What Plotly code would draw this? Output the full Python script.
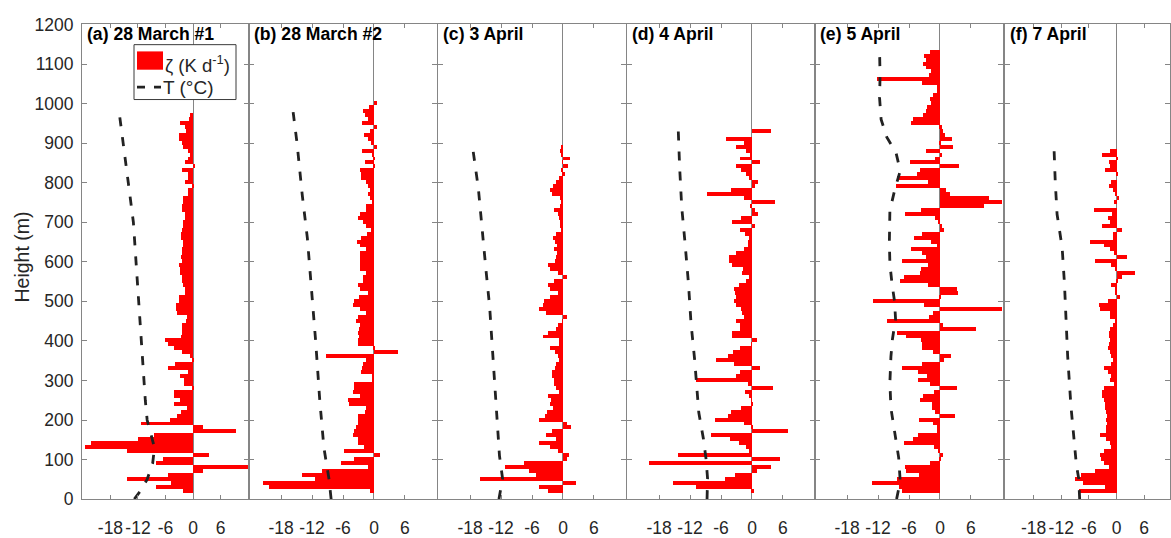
import plotly.graph_objects as go

W, H = 1171, 538

# ---------------- data ----------------
PANEL_TITLES = ["(a) 28 March #1", "(b) 28 March #2", "(c) 3 April",
                "(d) 4 April", "(e) 5 April", "(f) 7 April"]

# Heating rate zeta (K d^-1), 10-m bins listed from the top bin downwards
TOP_A = 970
ZETA_A = [-0.6, -0.8, -2.8, -1.7, -1.5, -3.0, -3.0, -2.5, -2.2, -1.0,
          -0.7, -1.0, -1.7, 0.3, -2.4, -1.0, -1.0, -1.8, -0.2, -1.1,
          -1.1, -2.2, -2.2, -2.4, -2.4, -1.7, -1.7, -2.2, -2.2, -2.4,
          -2.6, -2.6, -2.2, -2.2, -2.4, -2.4, -2.6, -2.4, -3.1, -2.8,
          -2.8, -2.4, -2.4, -2.2, -1.7, -1.8, -3.1, -3.1, -3.7, -3.7,
          -3.5, -1.3, -1.5, -2.4, -2.3, -2.3, -2.6, -6.1, -5.5, -4.2,
          -2.4, -0.7, -0.3, -3.9, -5.5, -1.0, -2.9, -2.0, -2.0, -0.3,
          -4.2, -4.2, -2.9, -4.2, -1.3, -2.6, -3.5, -5.1, -11.4, 2.2,
          9.3, -8.4, -11.9, -22.2, -23.6, -14.4, 3.4, -6.6, -8.1, 12.2,
          2.2, -5.5, -14.3, -4.8, -8.1, -2.2]

TOP_B = 1000
ZETA_B = [0.5, -1.0, -2.2, -1.8, -1.2, -2.3, 0.5, -0.8, -2.0, -1.2,
          -0.5, 0.5, -2.3, -0.2, 0.1, -1.8, 0.1, -2.8, -2.5, -2.5,
          -1.5, -1.2, -0.8, -1.2, -0.7, -0.2, -1.5, -1.5, -2.7, -3.0,
          -2.2, -1.6, -0.5, -1.3, -2.5, -3.3, -2.8, -1.5, -2.7, -2.8,
          -2.8, -2.7, -2.7, -1.5, -2.2, -2.2, -3.1, -2.7, -1.2, -2.9,
          -3.9, -4.1, -2.8, -1.5, -3.1, -3.5, -2.7, -2.9, -3.1, -2.9,
          -3.1, -3.1, 0.1, 4.7, -9.2, -1.5, -2.2, -2.3, -2.5, -0.3,
          -0.2, -3.8, -3.8, -4.1, -2.8, -5.0, -4.8, -1.6, -1.8, -3.0,
          -3.0, -3.1, -3.5, -3.8, -4.1, -3.1, -3.1, -2.0, -5.9, 1.1,
          -3.8, -6.4, -1.2, -10.1, -13.9, -11.4, -21.4, -20.4, -0.7]

TOP_C = 890
ZETA_C = [-0.3, -0.5, -0.2, 1.3, -0.1, 1.0, -0.3, 0.3, -0.8, -1.4,
          -2.0, -2.5, -2.1, -0.5, -0.3, -0.5, -1.8, -1.0, -0.8, -0.5,
          -0.5, -0.3, -1.4, -2.0, -1.6, -1.2, -1.8, -1.2, -1.4, -1.6,
          -2.9, -2.6, -1.0, 0.8, -1.8, -2.9, -2.5, -1.0, -2.6, -3.6,
          -3.9, -4.6, -3.3, 0.7, -0.1, -1.0, -1.4, -2.9, -3.9, -0.8,
          -0.7, -2.6, -1.6, -1.0, -0.8, -1.3, -1.6, -2.1, -2.1, -1.8,
          -1.8, -1.4, -0.7, -2.9, -2.3, -2.5, -2.0, -3.1, -3.4, -4.6,
          0.7, 1.6, -2.1, -3.3, -1.3, -4.7, -2.5, -1.0, 1.2, 0.7,
          -7.5, -11.2, -6.5, -5.3, -16.0, 2.5, -4.6, -2.9]

TOP_D = 930
ZETA_D = [3.6, 0.0, -5.1, -1.5, -3.0, -1.1, -0.3, -2.3, 1.5, -3.0,
          -2.1, -1.1, -0.6, 1.2, 0.5, -4.1, -8.8, -1.5, 4.5, -0.3,
          0.5, 1.1, -2.1, -3.9, 0.5, -2.3, -1.3, -0.6, -0.8, -0.7,
          -1.6, -3.0, -4.4, -4.5, -3.8, -1.8, -1.9, -0.5, -1.1, -2.6,
          -3.4, -3.2, -3.1, -3.4, -3.0, -2.1, -1.9, -1.5, -3.0, -2.3,
          -2.4, -3.8, -3.8, 0.9, -0.1, -2.4, -3.6, -4.7, -6.9, -3.4,
          1.5, -2.4, -3.0, -10.9, -0.8, 4.0, -1.3, -0.5, -0.1, 0.1,
          -2.1, -4.1, -4.7, -7.2, -1.6, 0.2, 7.0, -8.0, -4.2, -2.6,
          -1.1, -0.5, -14.4, 5.5, -20.0, 3.6, 0.9, -3.2, -5.2, -15.3,
          -10.8, 0.3]

TOP_E = 1130
ZETA_E = [-1.9, -3.0, -2.8, -3.2, -2.8, -1.7, -2.2, -12.1, -3.4, -0.6,
          -0.5, -1.3, -1.9, -1.7, -2.6, -2.8, -3.2, -5.3, -5.6, 0.3,
          0.6, 1.0, 2.3, 0.2, 2.5, -2.8, 0.4, -0.9, -5.9, 3.6,
          -3.9, -4.5, -8.4, -2.4, -8.6, 1.2, 1.9, 9.5, 12.0, 8.6,
          -3.7, -6.8, -0.9, -0.3, 0.4, 0.8, -3.5, -5.1, -1.7, -0.5,
          -5.6, -3.4, -2.7, -7.4, -2.4, -3.7, -3.8, -7.0, -7.7, -2.4,
          3.2, 3.4, 0.2, -13.0, -3.0, 12.0, -1.3, -2.1, -10.3, 0.6,
          7.0, -8.4, -6.6, -3.7, -3.5, -3.4, -1.4, 2.1, 0.8, -3.4,
          -7.4, -4.3, -2.6, -4.3, -1.9, 3.2, -1.1, -3.2, -3.9, -1.5,
          -1.5, -0.9, 3.0, -4.1, -1.3, -0.5, -0.5, -4.3, -5.3, -6.9,
          -1.1, -0.3, 0.6, 0.2, -1.9, -6.7, -6.6, -4.1, -8.4, -13.2,
          -7.9, -7.4]

TOP_F = 880
ZETA_F = [-1.4, -3.1, 0.3, -1.7, -1.4, -2.4, 0.3, 0.0, -1.3, -1.7,
          -0.7, -0.2, 0.5, -0.6, 0.0, -4.9, -0.9, -1.8, -1.4, -3.1,
          1.2, -0.7, -0.7, -5.7, -2.8, -1.4, -0.6, 2.3, -4.6, -1.3,
          -0.4, 4.1, 1.2, 0.3, -1.2, -0.4, -0.2, 0.7, -1.9, -3.8,
          -3.6, -1.4, -1.4, -0.4, -0.7, -1.4, -1.7, -1.7, -1.4, -1.7,
          -1.9, -1.4, -1.2, -0.7, -1.3, -2.8, -1.9, -1.2, -1.4, -0.6,
          -2.8, -3.1, -3.1, -2.8, -2.4, -2.4, -2.2, -2.0, -2.2, -2.0,
          -2.2, -2.2, -3.5, -2.2, -1.4, -1.2, -2.8, -3.6, -3.3, -2.8,
          -1.7, -4.6, -7.7, -9.1, -7.2, -2.4, -8.2]

# Temperature profiles (deg C) vs height (m)
T_H_A = [0, 20, 50, 90, 130, 170, 200, 250, 320, 400, 480, 550, 640, 700, 790, 870, 945, 987]
T_A = [-12.8, -11.5, -10.0, -8.8, -8.4, -9.4, -10.0, -10.4, -10.8, -11.3, -11.7, -12.2,
       -12.7, -13.0, -14.0, -14.9, -15.6, -16.2]
T_H_B = [0, 50, 130, 250, 400, 550, 660, 770, 900, 1004]
T_B = [-8.3, -8.7, -9.7, -10.5, -11.3, -12.2, -12.9, -13.9, -14.9, -15.9]
T_H_C = [0, 52, 110, 194, 319, 403, 486, 578, 686, 787, 899]
T_C = [-12.4, -11.7, -12.3, -12.7, -13.4, -13.7, -14.2, -14.9, -15.7, -16.4, -17.6]
T_H_D = [0, 52, 102, 152, 219, 352, 444, 545, 653, 737, 837, 941]
T_D = [-8.7, -8.6, -8.9, -9.4, -10.3, -11.1, -11.8, -12.3, -13.0, -13.6, -14.0, -14.3]
T_H_E = [0, 45, 105, 170, 230, 295, 360, 405, 455, 500, 545, 595, 650, 730, 780, 830,
         875, 915, 960, 1015, 1070, 1133]
T_E = [-8.4, -7.7, -8.0, -8.8, -9.5, -9.7, -9.5, -9.2, -8.6, -8.8, -9.3, -9.7, -9.8,
       -9.7, -8.8, -7.7, -8.5, -10.3, -11.4, -11.7, -11.6, -11.7]
T_H_F = [0, 52, 85, 152, 236, 361, 444, 545, 636, 720, 803, 899]
T_F = [-8.0, -8.2, -8.7, -9.3, -9.9, -10.6, -10.9, -11.3, -11.8, -12.9, -13.3, -13.6]

X_TICKS = [-18, -12, -6, 0, 6]
X_TICK_TEXT = ["-18", "-12", "-6", "0", "6"]
Y_TICKS = [0, 100, 200, 300, 400, 500, 600, 700, 800, 900, 1000, 1100, 1200]
Y_TICK_TEXT = ["0", "100", "200", "300", "400", "500", "600", "700", "800", "900",
               "1000", "1100", "1200"]

PANELS = [
    (TOP_A, ZETA_A, T_H_A, T_A),
    (TOP_B, ZETA_B, T_H_B, T_B),
    (TOP_C, ZETA_C, T_H_C, T_C),
    (TOP_D, ZETA_D, T_H_D, T_D),
    (TOP_E, ZETA_E, T_H_E, T_E),
    (TOP_F, ZETA_F, T_H_F, T_F),
]

# ---------------- layout (pixels) ----------------
PANEL_PX = [(82, 249), (249, 437), (438, 626), (627, 815), (815, 1003), (1005, 1170)]
X_RANGES = [[-24.2, 12.2]] * 5 + [[-24.2, 11.6]]
PLOT_TOP, PLOT_BOTTOM = 15, 508

FONT = "Liberation Sans, Arial, Helvetica, sans-serif"
AX_COLOR = "#858585"
TXT_COLOR = "#262626"
T_DASH = "9px,11px"


def px_x(x):
    return x / W


def px_y(y):
    return 1 - y / H


fig = go.Figure()
layout = {}
annotations = []
shapes = []

for i, (top, zeta, th, tv) in enumerate(PANELS):
    n = "" if i == 0 else str(i + 1)
    heights = [top - 10 * k for k in range(len(zeta))]
    fig.add_trace(go.Bar(
        x=zeta, y=heights, orientation="h", width=10, offset=-5,
        marker=dict(color="#FF0000", line=dict(width=0)),
        xaxis="x" + n, yaxis="y" + n, showlegend=False,
        name="ζ (K d⁻¹)"))
    fig.add_trace(go.Scatter(
        x=tv, y=th, mode="lines",
        line=dict(color="#222222", width=2.8, dash=T_DASH),
        xaxis="x" + n, yaxis="y" + n, showlegend=False, name="T (°C)"))

    x0, x1 = PANEL_PX[i]
    layout["xaxis" + n] = dict(
        domain=[px_x(x0), px_x(x1)], range=X_RANGES[i], anchor="y" + n,
        tickmode="array", tickvals=X_TICKS, ticktext=X_TICK_TEXT,
        ticks="inside", ticklen=4, tickcolor=AX_COLOR, tickwidth=1,
        showline=True, linecolor=AX_COLOR, linewidth=1, mirror="allticks",
        showgrid=False, zeroline=True, zerolinecolor=AX_COLOR, zerolinewidth=1,
        tickfont=dict(family=FONT, size=17.5, color=TXT_COLOR),
        ticklabelstandoff=13, fixedrange=True)
    layout["yaxis" + n] = dict(
        domain=[px_y(PLOT_BOTTOM), px_y(PLOT_TOP)], range=[0, 1200], anchor="x" + n,
        tickmode="array", tickvals=Y_TICKS, ticktext=Y_TICK_TEXT,
        ticks="inside", ticklen=5, tickcolor=AX_COLOR, tickwidth=1,
        showline=True, linecolor=AX_COLOR, linewidth=1, mirror="allticks",
        showgrid=False, zeroline=False, showticklabels=(i == 0),
        tickfont=dict(family=FONT, size=17.5, color=TXT_COLOR),
        ticklabelstandoff=4, fixedrange=True)

    annotations.append(dict(
        text="<b>" + PANEL_TITLES[i] + "</b>", xref="paper", yref="paper",
        x=px_x(x0 + 3), y=px_y(25), xanchor="left", yanchor="middle",
        showarrow=False, font=dict(family=FONT, size=17.6, color="#000000")))

# y-axis title
annotations.append(dict(
    text="Height (m)", xref="paper", yref="paper", x=px_x(22), y=px_y(256),
    xanchor="center", yanchor="middle", textangle=-90, showarrow=False,
    font=dict(family=FONT, size=19.5, color=TXT_COLOR)))

# legend box drawn inside panel (a)
LEG_X0, LEG_X1, LEG_Y0, LEG_Y1 = 134, 236, 36, 93
shapes.append(dict(type="rect", xref="paper", yref="paper",
                   x0=px_x(LEG_X0), x1=px_x(LEG_X1), y0=px_y(LEG_Y1), y1=px_y(LEG_Y0),
                   fillcolor="white", line=dict(color="#3a3a3a", width=1), layer="above"))
shapes.append(dict(type="rect", xref="paper", yref="paper",
                   x0=px_x(137), x1=px_x(163), y0=px_y(62), y1=px_y(43),
                   fillcolor="#FF0000", line=dict(width=0), layer="above"))
shapes.append(dict(type="line", xref="paper", yref="paper",
                   x0=px_x(137), x1=px_x(161), y0=px_y(80), y1=px_y(80),
                   line=dict(color="#222222", width=2.8, dash="8px,9px"), layer="above"))
annotations.append(dict(
    text="ζ (K d<sup>-1</sup>)", xref="paper", yref="paper", x=px_x(163), y=px_y(56),
    xanchor="left", yanchor="middle", showarrow=False,
    font=dict(family=FONT, size=18.5, color=TXT_COLOR)))
annotations.append(dict(
    text="T (°C)", xref="paper", yref="paper", x=px_x(161), y=px_y(80),
    xanchor="left", yanchor="middle", showarrow=False,
    font=dict(family=FONT, size=19, color=TXT_COLOR)))

fig.update_layout(
    width=W, height=H, margin=dict(l=0, r=0, t=0, b=0, pad=0),
    paper_bgcolor="white", plot_bgcolor="white",
    barmode="overlay", bargap=0, showlegend=False,
    annotations=annotations, shapes=shapes, **layout)

fig.write_html("out.html", config={"displayModeBar": False})
